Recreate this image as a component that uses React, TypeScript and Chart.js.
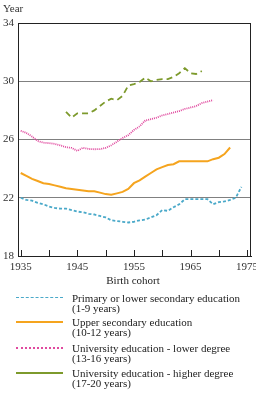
import React, { useEffect, useRef } from "react";
import { Chart, registerables } from "chart.js";

Chart.register(...registerables);

const years = [
  1935, 1936, 1937, 1938, 1939, 1940, 1941, 1942, 1943, 1944,
  1945, 1946, 1947, 1948, 1949, 1950, 1951, 1952, 1953, 1954,
  1955, 1956, 1957, 1958, 1959, 1960, 1961, 1962, 1963, 1964,
  1965, 1966, 1967, 1968, 1969, 1970, 1971, 1972, 1973, 1974,
];

const primary = [
  22.0, 21.85, 21.8, 21.65, 21.55, 21.4, 21.3, 21.25, 21.25, 21.15,
  21.05, 21.0, 20.9, 20.85, 20.75, 20.65, 20.45, 20.4, 20.35, 20.3,
  20.35, 20.45, 20.5, 20.65, 20.8, 21.15, 21.1, 21.35, 21.55, 21.9,
  21.9, 21.9, 21.9, 21.9, 21.55, 21.7, 21.75, 21.85, 22.0, 22.75,
];

const upperSecondary = [
  23.7, 23.5, 23.3, 23.15, 23.0, 22.95, 22.85, 22.75, 22.65, 22.6,
  22.55, 22.5, 22.45, 22.45, 22.35, 22.25, 22.2, 22.3, 22.4, 22.6,
  23.0, 23.2, 23.45, 23.7, 23.95, 24.1, 24.25, 24.3, 24.5, 24.5,
  24.5, 24.5, 24.5, 24.5, 24.65, 24.75, 25.0, 25.45, null, null,
];

const uniLower = [
  26.6, 26.45, 26.2, 25.9, 25.78, 25.75, 25.7, 25.6, 25.47, 25.42,
  25.22, 25.43, 25.35, 25.33, 25.34, 25.42, 25.6, 25.85, 26.1, 26.3,
  26.65, 26.9, 27.3, 27.4, 27.5, 27.65, 27.75, 27.85, 27.95, 28.1,
  28.2, 28.3, 28.5, 28.6, 28.7, null, null, null, null, null,
];

const uniHigher = [
  null, null, null, null, null, null, null, null, 27.9, 27.5,
  27.8, 27.8, 27.8, 28.0, 28.3, 28.6, 28.8, 28.7, 29.0, 29.7,
  29.8, 29.95, 30.25, 30.0, 30.1, 30.15, 30.15, 30.3, 30.55, 30.9,
  30.55, 30.5, 30.7, null, null, null, null, null, null, null,
];

const xTickValues = [1935, 1940, 1945, 1950, 1955, 1960, 1965, 1970, 1975];
const yTickValues = [18, 22, 26, 30, 34];

const seriesNames = [
  ["Primary or lower secondary education", "(1-9 years)"],
  ["Upper secondary education", "(10-12 years)"],
  ["University education - lower degree", "(13-16 years)"],
  ["University education - higher degree", "(17-20 years)"],
];

const colors = ["#4aa9c9", "#f5a41e", "#e04a9f", "#7d9a2c"];
const dashes = [[3, 2], [], [1, 1], [6, 4]];

const FONT = "'Liberation Serif', 'Times New Roman', serif";

const toPoints = (vals: (number | null)[]) =>
  years.map((y, i) => ({ x: y, y: vals[i] }));

export default function App() {
  const ref = useRef<HTMLCanvasElement | null>(null);

  useEffect(() => {
    if (!ref.current) return;
    const frame = {
      id: "frame",
      afterDraw(chart: any) {
        const { ctx, chartArea } = chart;
        const xs = chart.scales.x;
        ctx.save();
        ctx.strokeStyle = "#222";
        ctx.lineWidth = 1;
        ctx.setLineDash([]);
        ctx.strokeRect(
          Math.round(chartArea.left) + 0.5,
          Math.round(chartArea.top) + 0.5,
          Math.round(chartArea.right - chartArea.left) - 1,
          Math.round(chartArea.bottom - chartArea.top)
        );
        ctx.beginPath();
        xTickValues.forEach((v) => {
          const px = Math.round(xs.getPixelForValue(v)) + 0.5;
          ctx.moveTo(px, chartArea.bottom);
          ctx.lineTo(px, chartArea.bottom - 6);
        });
        ctx.stroke();
        ctx.restore();
      },
    };

    const datasets = [primary, upperSecondary, uniLower, uniHigher].map(
      (vals, i) => ({
        label: seriesNames[i].join(" "),
        data: toPoints(vals),
        borderColor: colors[i],
        backgroundColor: colors[i],
        borderWidth: i === 1 ? 2 : 1.8,
        borderDash: dashes[i],
        pointRadius: 0,
        tension: 0,
        spanGaps: false,
        fill: false,
      })
    );

    const chart = new Chart(ref.current, {
      type: "line",
      data: { datasets },
      plugins: [frame],
      options: {
        animation: false,
        responsive: false,
        devicePixelRatio: 1,
        layout: { padding: { left: 0, top: 23, right: 5, bottom: 123 } },
        plugins: { legend: { display: false }, tooltip: { enabled: false } },
        scales: {
          x: {
            type: "linear",
            min: 1934.52,
            max: 1975.69,
            afterBuildTicks: (s: any) => {
              s.ticks = xTickValues.map((v) => ({ value: v }));
            },
            afterFit: (s: any) => {
              s.height = 20;
              s.paddingLeft = 0;
              s.paddingRight = 0;
            },
            grid: { display: false, drawTicks: false },
            border: { display: true, color: "#222", width: 1 },
            ticks: {
              autoSkip: false,
              maxRotation: 0,
              padding: 5,
              color: "#333",
              font: { family: FONT, size: 11 },
              callback: (v: any) => (Number(v) % 10 === 5 ? String(v) : ""),
            },
          },
          y: {
            type: "linear",
            min: 18,
            max: 34,
            afterBuildTicks: (s: any) => {
              s.ticks = yTickValues.map((v) => ({ value: v }));
            },
            afterFit: (s: any) => {
              s.width = 18;
              s.paddingTop = 0;
              s.paddingBottom = 0;
            },
            grid: {
              drawTicks: false,
              color: (c: any) =>
                c.tick && (c.tick.value === 18 || c.tick.value === 34)
                  ? "rgba(0,0,0,0)"
                  : "#808080",
              lineWidth: 1,
            },
            border: { display: true, color: "#222", width: 1 },
            ticks: {
              padding: 4,
              color: "#333",
              font: { family: FONT, size: 11 },
            },
          },
        },
      },
    } as any);
    return () => chart.destroy();
  }, []);

  const legendCenters = [297.5, 322, 347.5, 373];
  const lineStyles = ["dashed", "solid", "dotted", "solid"];

  return (
    <div
      style={{
        position: "fixed",
        left: 0,
        top: 0,
        width: 256,
        height: 399,
        background: "#fff",
        overflow: "hidden",
        fontFamily: FONT,
        color: "#222",
      }}
    >
      <canvas
        ref={ref}
        width={256}
        height={399}
        style={{ position: "absolute", left: 0, top: 0, width: 256, height: 399 }}
      />
      <div
        style={{
          position: "absolute",
          left: 3,
          top: 2,
          fontSize: 11,
          lineHeight: "12px",
          color: "#333",
        }}
      >
        Year
      </div>
      <div
        style={{
          position: "absolute",
          left: 83,
          width: 100,
          top: 274,
          textAlign: "center",
          fontSize: 11,
          lineHeight: "12px",
        }}
      >
        Birth cohort
      </div>
      {seriesNames.map((name, i) => (
        <React.Fragment key={i}>
          <div
            style={{
              position: "absolute",
              left: 16,
              width: 47,
              top: legendCenters[i] - 1,
              height: 0,
              borderTop: `${i === 0 ? 1.5 : 2}px ${lineStyles[i]} ${colors[i]}`,
            }}
          />
          <div
            style={{
              position: "absolute",
              left: 72,
              top: legendCenters[i] - 5,
              fontSize: 11,
              lineHeight: "10px",
              whiteSpace: "nowrap",
            }}
          >
            <div>{name[0]}</div>
            <div>{name[1]}</div>
          </div>
        </React.Fragment>
      ))}
    </div>
  );
}
